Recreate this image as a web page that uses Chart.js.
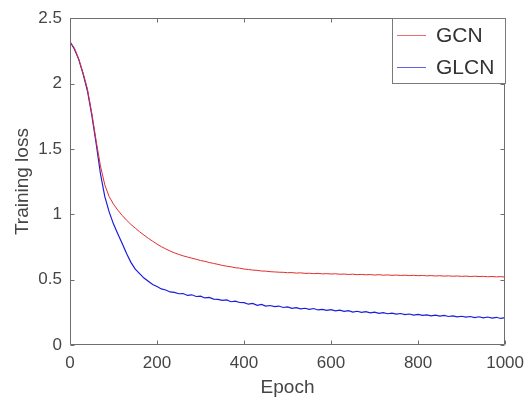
<!DOCTYPE html>
<html><head><meta charset="utf-8">
<script src="https://cdn.jsdelivr.net/npm/chart.js@4/dist/chart.umd.min.js"></script>
<style>html,body{margin:0;padding:0;background:#fff}#wrap{width:532px;height:402px}</style>
</head><body><div id="wrap"><canvas id="c" width="532" height="402"></canvas></div>
<script>
const epochs = [0,10,20,30,40,50,60,70,80,90,100,110,120,130,140,150,160,170,180,190,200,210,220,230,240,250,260,270,280,290,300,310,320,330,340,350,360,370,380,390,400,410,420,430,440,450,460,470,480,490,500,510,520,530,540,550,560,570,580,590,600,610,620,630,640,650,660,670,680,690,700,710,720,730,740,750,760,770,780,790,800,810,820,830,840,850,860,870,880,890,900,910,920,930,940,950,960,970,980,990,1000];
const gcnLoss = [2.320,2.272,2.190,2.080,1.960,1.775,1.565,1.370,1.225,1.135,1.077,1.031,0.991,0.955,0.922,0.894,0.866,0.841,0.816,0.794,0.772,0.752,0.735,0.719,0.705,0.693,0.682,0.673,0.664,0.656,0.646,0.640,0.631,0.624,0.617,0.609,0.603,0.598,0.591,0.588,0.581,0.578,0.573,0.571,0.566,0.565,0.561,0.559,0.557,0.556,0.553,0.554,0.550,0.552,0.548,0.549,0.546,0.548,0.544,0.546,0.543,0.545,0.541,0.543,0.539,0.542,0.538,0.540,0.537,0.539,0.535,0.538,0.534,0.536,0.533,0.535,0.532,0.534,0.531,0.533,0.530,0.532,0.529,0.531,0.528,0.530,0.527,0.529,0.526,0.528,0.525,0.527,0.524,0.526,0.524,0.525,0.522,0.524,0.521,0.523,0.520];
const glcnLoss = [2.320,2.265,2.185,2.075,1.945,1.760,1.545,1.310,1.135,1.018,0.925,0.850,0.776,0.700,0.632,0.580,0.546,0.512,0.487,0.463,0.447,0.429,0.421,0.406,0.403,0.392,0.394,0.379,0.384,0.371,0.374,0.360,0.364,0.351,0.349,0.342,0.345,0.331,0.336,0.325,0.324,0.312,0.318,0.304,0.310,0.297,0.302,0.294,0.298,0.287,0.291,0.280,0.286,0.276,0.281,0.272,0.279,0.268,0.273,0.265,0.270,0.261,0.266,0.257,0.263,0.252,0.258,0.250,0.255,0.246,0.251,0.242,0.247,0.239,0.244,0.236,0.241,0.233,0.237,0.229,0.234,0.226,0.231,0.223,0.229,0.221,0.226,0.218,0.223,0.215,0.220,0.213,0.218,0.210,0.216,0.208,0.214,0.206,0.212,0.203,0.209];
const seriesNames = ['GCN','GLCN'];
const seriesColors = ['rgb(228,44,44)','rgb(28,28,222)'];
const xTicks = [0,200,400,600,800,1000];
const yTicks = [0,0.5,1,1.5,2,2.5];
const xTickLabels = ['0','200','400','600','800','1000'];
const yTickLabels = ['0','0.5','1','1.5','2','2.5'];
const xTitle = 'Epoch';
const yTitle = 'Training loss';

const FONT = "'Liberation Sans', Arial, sans-serif";
const TXT = '#454545';
const AX = '#6e6e6e';

const framePlugin = {
  id: 'frame',
  afterDatasetsDraw(chart) {
    const {ctx, chartArea: a, scales: {x, y}} = chart;
    ctx.save();
    ctx.strokeStyle = AX;
    ctx.lineWidth = 1;
    const L = Math.round(a.left) + 0.5, R = Math.round(a.right) - 0.5;
    const T = Math.round(a.top) + 0.5, B = Math.round(a.bottom) - 0.5;
    ctx.beginPath();
    ctx.rect(L, T, R - L, B - T);
    const tl = 4;
    xTicks.forEach(v => {
      const px = Math.round(x.getPixelForValue(v)) + 0.5;
      ctx.moveTo(px, B); ctx.lineTo(px, B - tl);
      ctx.moveTo(px, T); ctx.lineTo(px, T + tl);
    });
    yTicks.forEach(v => {
      const py = Math.round(y.getPixelForValue(v)) + 0.5;
      ctx.moveTo(L, py); ctx.lineTo(L + tl, py);
      ctx.moveTo(R, py); ctx.lineTo(R - tl, py);
    });
    ctx.stroke();

    // legend box
    const bx = 392.5, by = 18.5, bw = 113, bh = 65;
    ctx.fillStyle = '#fff';
    ctx.fillRect(bx, by, bw, bh);
    ctx.strokeStyle = '#7a7a7a';
    ctx.strokeRect(bx, by, bw, bh);
    ctx.font = '21px ' + FONT;
    ctx.textBaseline = 'middle';
    ctx.textAlign = 'left';
    chart.data.datasets.forEach((ds, i) => {
      const cy = 35.5 + i * 32;
      ctx.strokeStyle = ds.borderColor;
      ctx.globalAlpha = 0.7;
      ctx.beginPath();
      ctx.moveTo(397, cy); ctx.lineTo(426, cy);
      ctx.stroke();
      ctx.globalAlpha = 1;
      ctx.fillStyle = '#333';
      ctx.fillText(ds.label, 436, cy + 1);
    });
    ctx.restore();
  }
};

new Chart(document.getElementById('c'), {
  type: 'line',
  data: {
    datasets: [
      {label: seriesNames[0], data: epochs.map((e, i) => ({x: e, y: gcnLoss[i]})), borderColor: seriesColors[0], borderWidth: 1},
      {label: seriesNames[1], data: epochs.map((e, i) => ({x: e, y: glcnLoss[i]})), borderColor: seriesColors[1], borderWidth: 1.2}
    ]
  },
  options: {
    responsive: false,
    animation: false,
    devicePixelRatio: 1,
    layout: {padding: {left: 0, right: 24, top: 12, bottom: 0}},
    plugins: {legend: {display: false}, tooltip: {enabled: false}},
    elements: {point: {radius: 0}, line: {tension: 0}},
    scales: {
      x: {
        type: 'linear', min: 0, max: 1000,
        afterBuildTicks: s => { s.ticks = xTicks.map(v => ({value: v})); },
        afterFit: s => { s.height = 57; },
        grid: {display: false, drawTicks: false},
        border: {display: false},
        ticks: {font: {family: FONT, size: 17}, color: TXT, padding: 8, maxRotation: 0, autoSkip: false,
                callback: (v, i) => xTickLabels[i]},
        title: {display: true, text: xTitle, font: {family: FONT, size: 19}, color: TXT, padding: {top: 0, bottom: 3}}
      },
      y: {
        type: 'linear', min: 0, max: 2.5,
        afterBuildTicks: s => { s.ticks = yTicks.map(v => ({value: v})); },
        afterFit: s => { s.width = 70; },
        grid: {display: false, drawTicks: false},
        border: {display: false},
        ticks: {font: {family: FONT, size: 17}, color: TXT, padding: 8, autoSkip: false,
                callback: (v, i) => yTickLabels[i]},
        title: {display: true, text: yTitle, font: {family: FONT, size: 19}, color: TXT, padding: {top: 11, bottom: 0}}
      }
    }
  },
  plugins: [framePlugin]
});
</script>
</body></html>
